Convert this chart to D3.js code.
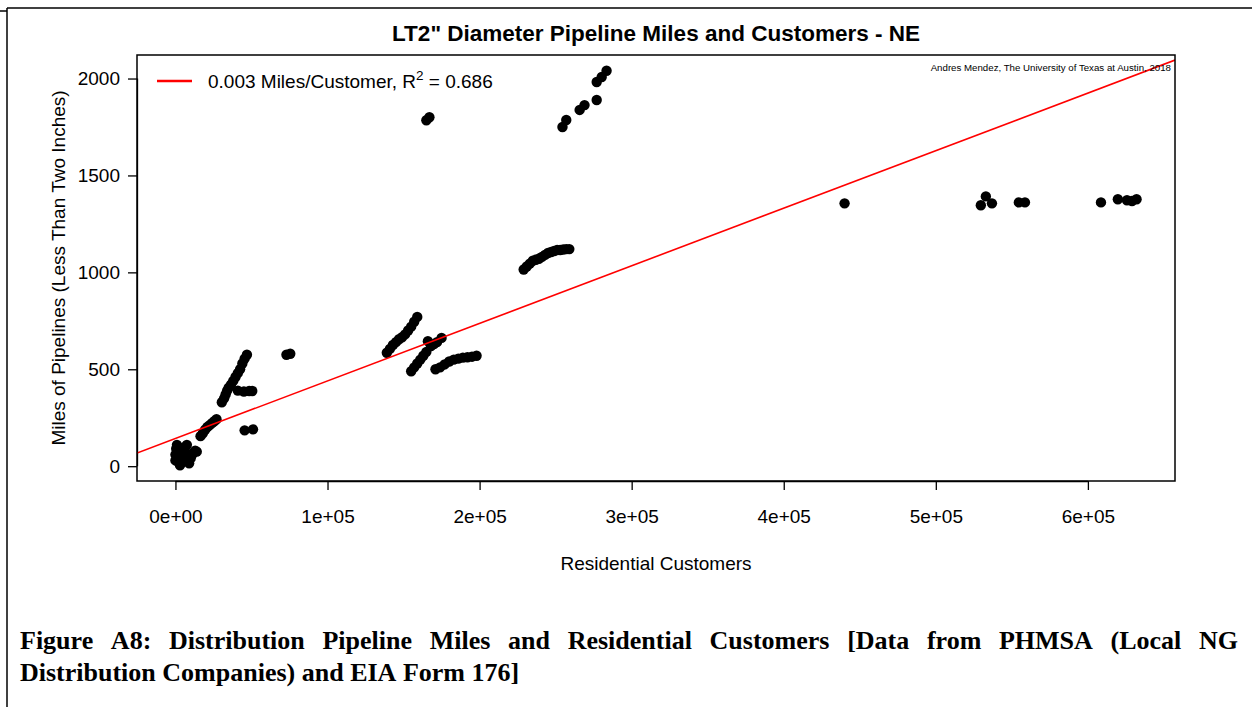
<!DOCTYPE html>
<html>
<head>
<meta charset="utf-8">
<script src="https://cdnjs.cloudflare.com/ajax/libs/d3/7.8.5/d3.min.js"></script>
<style>
  body { margin: 0; background: #fff; }
  svg { display: block; }
</style>
</head>
<body>
<script>
var customers = [
    // cluster near the origin
    0, 0, 500, 1000, 1500, 2000, 2500, 3000, 4000, 4000, 5000, 6000, 6500, 7000, 7500, 8000, 9000, 10000, 11000, 12000, 13000, 14000,
    2000, 5500, 9500, 3500,
    // small rising run
    16500, 18000, 19500, 21000, 22500, 24000, 25500, 27000,
    // steep run up to ~575
    30500, 32000, 33000, 34000, 35000, 36500, 38000, 39500, 41000, 42500, 44000, 45500, 47000,
    41000, 45000, 48500, 50500,
    45500, 51000,
    73000, 75500,
    // 1.4e5 - 2e5
    139000, 141000, 143000, 145000, 147000, 149000, 151000, 153000, 155000, 157000, 159000,
    155000, 157000, 159000, 161000, 163000, 165000, 166000, 168000, 170000, 172000, 175000,
    171000, 174000, 177000, 180000, 183000, 186000, 189000, 192000, 195000, 198000,
    165000, 167000,
    // 2.3e5 - 2.6e5
    229000, 231000, 233000, 235000, 237000, 239000, 241000, 243000, 245000, 247000, 249000, 251000, 253000, 255000, 257000, 259000,
    254500, 257000, 265800, 269000, 277000, 277000, 280300, 283500,
    // large utilities
    440000, 529600, 532900, 536900, 554600, 558600, 608600, 619700, 625700, 629000, 632000
];
var miles = [
    30, 60, 90, 110, 80, 40, 15, 5, 20, 90, 50, 80, 100, 60, 110, 30, 15, 40, 60, 70, 80, 75,
    65, 30, 55, 45,
    155, 170, 188, 202, 212, 222, 232, 242,
    330, 350, 370, 390, 405, 420, 440, 460, 480, 500, 530, 555, 575,
    390, 385, 388, 388,
    185, 190,
    575, 580,
    585, 605, 625, 640, 655, 665, 680, 700, 720, 745, 770,
    490, 510, 530, 550, 570, 590, 645, 620, 630, 640, 662,
    500, 510, 525, 540, 550, 555, 560, 562, 565, 570,
    1785, 1800,
    1015, 1030, 1045, 1060, 1065, 1070, 1080, 1090, 1100, 1105, 1110, 1115, 1115, 1118, 1120, 1120,
    1750, 1786, 1838, 1863, 1889, 1982, 2008, 2040,
    1356, 1346, 1392, 1356, 1361, 1361, 1361, 1377, 1372, 1368, 1377
];

// fitted line: miles = a + b * customers
var fitIntercept = 143;
var fitSlope = 0.00297;
var legendText = "0.003 Miles/Customer, R";
var legendR2 = " = 0.686";

var xTicks = [0, 100000, 200000, 300000, 400000, 500000, 600000];
var xTickLabels = ["0e+00", "1e+05", "2e+05", "3e+05", "4e+05", "5e+05", "6e+05"];
var yTicks = [0, 500, 1000, 1500, 2000];

var chartTitle = "LT2\" Diameter Pipeline Miles and Customers - NE";
var xTitle = "Residential Customers";
var yTitle = "Miles of Pipelines (Less Than Two Inches)";
var credit = "Andres Mendez, The University of Texas at Austin, 2018";
var captionLines = [
    "Figure A8: Distribution Pipeline Miles and Residential Customers [Data from PHMSA (Local NG",
    "Distribution Companies) and EIA Form 176]"
];

function drawChart () {
    var w = 1252;
    var h = 707;
    var box = {left: 137, right: 1175, top: 55, bottom: 481};

    var svg = d3.select("body")
        .append("svg")
        .attr("width", w)
        .attr("height", h);

    // page frame
    svg.append("line").attr("x1", 7).attr("x2", w).attr("y1", 8).attr("y2", 8)
        .attr("stroke", "#000").attr("stroke-width", 1.5);
    svg.append("line").attr("x1", 7).attr("x2", 7).attr("y1", 8).attr("y2", h)
        .attr("stroke", "#000").attr("stroke-width", 1.5);
    svg.append("line").attr("x1", 0).attr("x2", 7).attr("y1", 11).attr("y2", 11)
        .attr("stroke", "#000").attr("stroke-width", 1.5);

    // R style 4% padding around the data range
    var xMin = d3.min(customers), xMax = d3.max(customers);
    var yMin = d3.min(miles), yMax = d3.max(miles);
    var xPad = (xMax - xMin) * 0.04, yPad = (yMax - yMin) * 0.04;

    var x = d3.scaleLinear()
        .domain([xMin - xPad, xMax + xPad])
        .range([box.left, box.right]);
    var y = d3.scaleLinear()
        .domain([yMin - yPad, yMax + yPad])
        .range([box.bottom, box.top]);

    var font = "'Liberation Sans', Arial, sans-serif";
    var labelSize = "19px";

    // title
    svg.append("text")
        .attr("x", (box.left + box.right) / 2)
        .attr("y", 41)
        .attr("text-anchor", "middle")
        .style("font-family", font)
        .style("font-weight", "bold")
        .style("font-size", "22.5px")
        .text(chartTitle);

    // axes
    var xAxis = d3.axisBottom(x)
        .tickValues(xTicks)
        .tickFormat(function (d, i) { return xTickLabels[i]; })
        .tickSize(9)
        .tickPadding(20);
    var gx = svg.append("g")
        .attr("transform", "translate(0," + box.bottom + ")")
        .call(xAxis);
    gx.select(".domain").attr("d", "M" + x(xTicks[0]) + ",0.5H" + x(xTicks[xTicks.length - 1]));

    var yAxis = d3.axisLeft(y)
        .tickValues(yTicks)
        .tickFormat(d3.format("d"))
        .tickSize(9)
        .tickPadding(8);
    var gy = svg.append("g")
        .attr("transform", "translate(" + box.left + ",0)")
        .call(yAxis);
    gy.select(".domain").attr("d", "M0.5," + y(yTicks[0]) + "V" + y(yTicks[yTicks.length - 1]));

    svg.selectAll(".tick text")
        .style("font-family", font)
        .style("font-size", labelSize)
        .attr("fill", "#000");
    svg.selectAll(".tick line, .domain")
        .attr("stroke", "#000")
        .attr("stroke-width", 1.3);

    // axis titles
    svg.append("text")
        .attr("x", (box.left + box.right) / 2)
        .attr("y", 570)
        .attr("text-anchor", "middle")
        .style("font-family", font)
        .style("font-size", labelSize)
        .text(xTitle);
    svg.append("text")
        .attr("transform", "translate(65," + ((box.top + box.bottom) / 2) + ") rotate(-90)")
        .attr("text-anchor", "middle")
        .style("font-family", font)
        .style("font-size", labelSize)
        .text(yTitle);

    // points and fit line, clipped to the plot region
    svg.append("clipPath").attr("id", "plotclip")
        .append("rect")
        .attr("x", box.left).attr("y", box.top)
        .attr("width", box.right - box.left).attr("height", box.bottom - box.top);

    var plot = svg.append("g").attr("clip-path", "url(#plotclip)");

    plot.selectAll("circle")
        .data(customers)
        .enter()
        .append("circle")
        .attr("cx", function (d) { return x(d); })
        .attr("cy", function (d, i) { return y(miles[i]); })
        .attr("r", 5.2)
        .attr("fill", "#000");

    var xd = x.domain();
    plot.append("line")
        .attr("x1", x(xd[0])).attr("y1", y(fitIntercept + fitSlope * xd[0]))
        .attr("x2", x(xd[1])).attr("y2", y(fitIntercept + fitSlope * xd[1]))
        .attr("stroke", "#ff0000")
        .attr("stroke-width", 1.6);

    // plot box
    svg.append("rect")
        .attr("x", box.left).attr("y", box.top)
        .attr("width", box.right - box.left).attr("height", box.bottom - box.top)
        .attr("fill", "none")
        .attr("stroke", "#000")
        .attr("stroke-width", 1.5);

    // legend
    svg.append("line")
        .attr("x1", 157).attr("x2", 192).attr("y1", 81).attr("y2", 81)
        .attr("stroke", "#ff0000").attr("stroke-width", 2.5);
    var lg = svg.append("text")
        .attr("x", 208).attr("y", 88)
        .style("font-family", font)
        .style("font-size", labelSize);
    lg.append("tspan").text(legendText);
    lg.append("tspan").attr("dy", -8).style("font-size", "13.5px").text("2");
    lg.append("tspan").attr("dy", 8).text(legendR2);

    // credit note
    svg.append("text")
        .attr("x", 1171).attr("y", 71)
        .attr("text-anchor", "end")
        .style("font-family", font)
        .style("font-size", "9.7px")
        .text(credit);

    // caption, first line justified
    var capFont = "'Liberation Serif', 'Times New Roman', serif";
    var capLeft = 20, capRight = 1238;
    captionLines.forEach(function (line, li) {
        var yy = 649 + li * 32;
        var words = line.split(" ");
        var g = svg.append("g");
        var nodes = words.map(function (wd) {
            return g.append("text")
                .attr("y", yy)
                .style("font-family", capFont)
                .style("font-weight", "bold")
                .style("font-size", "26px")
                .text(wd);
        });
        var widths = nodes.map(function (n) { return n.node().getComputedTextLength(); });
        var total = d3.sum(widths);
        var gap = (li === 0) ? (capRight - capLeft - total) / (words.length - 1) : 6.5;
        var cx = capLeft;
        nodes.forEach(function (n, i) {
            n.attr("x", cx);
            cx += widths[i] + gap;
        });
    });
}

drawChart();
</script>
</body>
</html>
